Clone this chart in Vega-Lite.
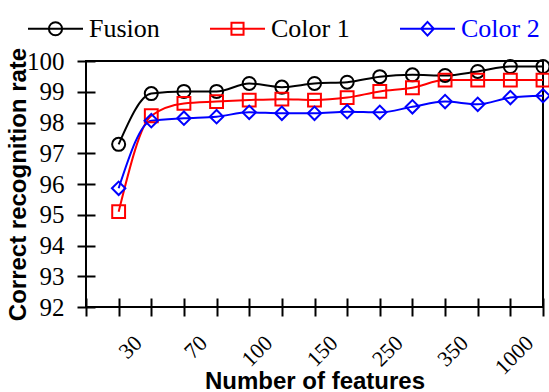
{
  "$schema": "https://vega.github.io/schema/vega-lite/v6.json",
  "width": 457,
  "height": 246,
  "autosize": "none",
  "padding": {"left": 86, "top": 61, "right": 6, "bottom": 85},
  "background": "white",
  "config": {"view": {"stroke": "black", "strokeWidth": 2}, "font": "Liberation Serif, Times New Roman, serif"},
  "data": {
    "values": [
      {"series": "Fusion", "pos": 1, "rate": 97.29},
      {"series": "Fusion", "pos": 2, "rate": 98.94},
      {"series": "Fusion", "pos": 3, "rate": 99.01},
      {"series": "Fusion", "pos": 4, "rate": 99.01},
      {"series": "Fusion", "pos": 5, "rate": 99.27},
      {"series": "Fusion", "pos": 6, "rate": 99.15},
      {"series": "Fusion", "pos": 7, "rate": 99.27},
      {"series": "Fusion", "pos": 8, "rate": 99.31},
      {"series": "Fusion", "pos": 9, "rate": 99.49},
      {"series": "Fusion", "pos": 10, "rate": 99.55},
      {"series": "Fusion", "pos": 11, "rate": 99.53},
      {"series": "Fusion", "pos": 12, "rate": 99.66},
      {"series": "Fusion", "pos": 13, "rate": 99.82},
      {"series": "Fusion", "pos": 14, "rate": 99.82},
      {"series": "Color 1", "pos": 1, "rate": 95.10},
      {"series": "Color 1", "pos": 2, "rate": 98.22},
      {"series": "Color 1", "pos": 3, "rate": 98.62},
      {"series": "Color 1", "pos": 4, "rate": 98.68},
      {"series": "Color 1", "pos": 5, "rate": 98.73},
      {"series": "Color 1", "pos": 6, "rate": 98.76},
      {"series": "Color 1", "pos": 7, "rate": 98.73},
      {"series": "Color 1", "pos": 8, "rate": 98.81},
      {"series": "Color 1", "pos": 9, "rate": 99.01},
      {"series": "Color 1", "pos": 10, "rate": 99.13},
      {"series": "Color 1", "pos": 11, "rate": 99.38},
      {"series": "Color 1", "pos": 12, "rate": 99.38},
      {"series": "Color 1", "pos": 13, "rate": 99.38},
      {"series": "Color 1", "pos": 14, "rate": 99.38},
      {"series": "Color 2", "pos": 1, "rate": 95.86},
      {"series": "Color 2", "pos": 2, "rate": 98.06},
      {"series": "Color 2", "pos": 3, "rate": 98.14},
      {"series": "Color 2", "pos": 4, "rate": 98.19},
      {"series": "Color 2", "pos": 5, "rate": 98.33},
      {"series": "Color 2", "pos": 6, "rate": 98.30},
      {"series": "Color 2", "pos": 7, "rate": 98.30},
      {"series": "Color 2", "pos": 8, "rate": 98.35},
      {"series": "Color 2", "pos": 9, "rate": 98.33},
      {"series": "Color 2", "pos": 10, "rate": 98.51},
      {"series": "Color 2", "pos": 11, "rate": 98.68},
      {"series": "Color 2", "pos": 12, "rate": 98.59},
      {"series": "Color 2", "pos": 13, "rate": 98.81},
      {"series": "Color 2", "pos": 14, "rate": 98.87}
    ]
  },
  "encoding": {
    "x": {
      "field": "pos",
      "type": "quantitative",
      "scale": {"domain": [0, 14], "nice": false, "zero": false},
      "axis": {
        "title": "Number of features",
        "titleFont": "Liberation Sans",
        "titleFontWeight": "bold",
        "titleFontSize": 24,
        "titleColor": "black",
        "titleBaseline": "alphabetic",
        "titleY": 90,
        "values": [0, 1, 2, 3, 4, 5, 6, 7, 8, 9, 10, 11, 12, 13, 14],
        "labelExpr": "['', '30', '', '70', '', '100', '', '150', '', '250', '', '350', '', '1000', ''][datum.value]",
        "labelAngle": -45,
        "labelAlign": "right",
        "labelBaseline": "top",
        "labelFont": "Liberation Serif, Times New Roman, serif",
        "labelFontSize": 22,
        "labelColor": "black",
        "labelOffset": 12,
        "labelPadding": 16,
        "labelOverlap": false,
        "labelFlush": false,
        "labelBound": false,
        "domain": false,
        "ticks": true,
        "tickSize": 18,
        "tickWidth": 2,
        "tickColor": "black",
        "offset": -9,
        "grid": false
      }
    },
    "y": {
      "field": "rate",
      "type": "quantitative",
      "scale": {"domain": [92, 100], "nice": false, "zero": false},
      "axis": {
        "title": "Correct recognition rate",
        "titleFont": "Liberation Sans",
        "titleFontWeight": "bold",
        "titleFontSize": 24,
        "titleColor": "black",
        "titleAngle": -90,
        "titleAlign": "center",
        "titleBaseline": "alphabetic",
        "titleX": -70,
        "titleY": 123,
        "values": [92, 93, 94, 95, 96, 97, 98, 99, 100],
        "labelFont": "Liberation Serif, Times New Roman, serif",
        "labelFontSize": 25,
        "labelColor": "black",
        "labelPadding": 13,
        "labelOverlap": false,
        "labelFlush": false,
        "domain": false,
        "tickSize": 18,
        "tickWidth": 2,
        "tickColor": "black",
        "offset": -9,
        "grid": false
      }
    }
  },
  "layer": [
    {
      "mark": {"type": "line", "interpolate": "monotone", "strokeWidth": 2},
      "encoding": {
        "color": {
          "field": "series",
          "type": "nominal",
          "scale": {"domain": ["Color 2", "Color 1", "Fusion"], "range": ["blue", "red", "black"]},
          "legend": null
        },
        "detail": {"field": "series"}
      }
    },
    {
      "transform": [{"filter": "datum.series == 'Fusion'"}],
      "mark": {"type": "point", "shape": "circle", "filled": false, "size": 170, "strokeWidth": 2, "color": "black", "opacity": 1}
    },
    {
      "transform": [{"filter": "datum.series == 'Color 1'"}],
      "mark": {"type": "point", "shape": "square", "filled": false, "size": 165, "strokeWidth": 2, "color": "red", "opacity": 1}
    },
    {
      "transform": [{"filter": "datum.series == 'Color 2'"}],
      "mark": {"type": "point", "shape": "diamond", "filled": false, "size": 180, "strokeWidth": 2, "color": "blue", "opacity": 1}
    },
    {
      "mark": {"type": "point", "filled": false, "opacity": 0, "strokeWidth": 2},
      "encoding": {
        "stroke": {
          "field": "series",
          "type": "nominal",
          "scale": {"domain": ["Fusion", "Color 1", "Color 2"], "range": ["black", "red", "blue"]},
          "legend": {
            "title": null,
            "orient": "none",
            "legendX": -59,
            "legendY": -61,
            "direction": "horizontal",
            "padding": 0,
            "symbolSize": 3025,
            "symbolStrokeWidth": 2,
            "symbolOpacity": 1,
            "labelFont": "Liberation Serif, Times New Roman, serif",
            "labelFontSize": 26,
            "labelOffset": 5,
            "columnPadding": 46,
            "labelColor": {"expr": "datum.label == 'Color 2' ? 'blue' : 'black'"}
          }
        },
        "shape": {
          "field": "series",
          "type": "nominal",
          "scale": {
            "domain": ["Fusion", "Color 1", "Color 2"],
            "range": [
              "M-1,0H1M-0.24,0A0.24,0.24,0,1,1,0.24,0A0.24,0.24,0,1,1,-0.24,0Z",
              "M-1,0H1M-0.22,-0.22H0.22V0.22H-0.22Z",
              "M-1,0H1M-0.23,0L0,-0.25L0.23,0L0,0.25Z"
            ]
          },
          "legend": {
            "title": null,
            "orient": "none",
            "legendX": -59,
            "legendY": -61,
            "direction": "horizontal",
            "padding": 0,
            "symbolSize": 3025,
            "symbolStrokeWidth": 2,
            "symbolOpacity": 1,
            "labelFont": "Liberation Serif, Times New Roman, serif",
            "labelFontSize": 26,
            "labelOffset": 5,
            "columnPadding": 46,
            "labelColor": {"expr": "datum.label == 'Color 2' ? 'blue' : 'black'"}
          }
        }
      }
    }
  ]
}
